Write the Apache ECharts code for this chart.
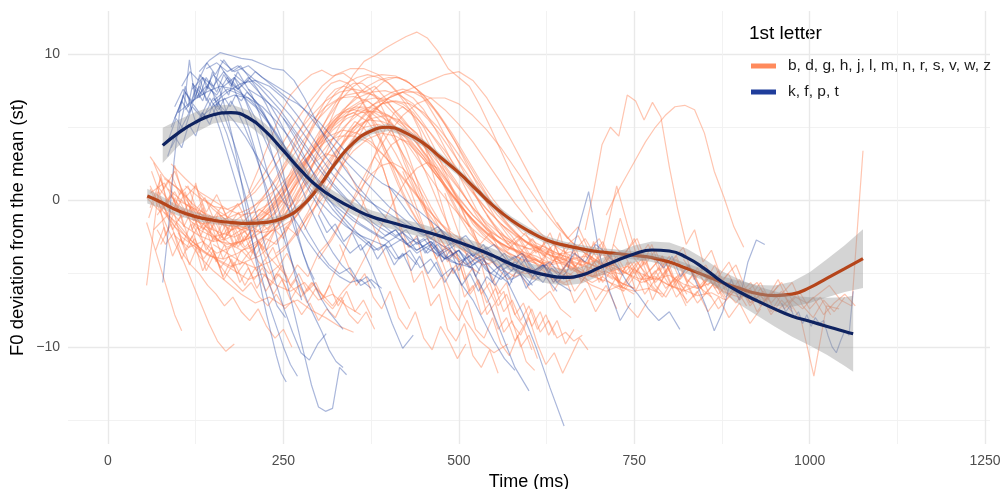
<!DOCTYPE html>
<html><head><meta charset="utf-8">
<script src="https://cdn.jsdelivr.net/npm/echarts@6/dist/echarts.min.js"></script>
<style>html,body{margin:0;padding:0;background:#fff}#c{width:1000px;height:489px}</style>
</head><body><div id="c"></div>
<script>
// ---------- axis ticks ----------
const xTicks = [0, 250, 500, 750, 1000, 1250];
const xMinor = [125, 375, 625, 875, 1125];
const yTicks = [-10, 0, 10];
const yMinor = [-15, -5, 5];
const groupNames = ['b, d, g, h, j, l, m, n, r, s, v, w, z', 'k, f, p, t'];

// ---------- smooth curves (time, value, ribbon half width) ----------
const orangeSmoothT = [56,75,100,125,150,175,200,225,250,275,300,325,350,375,400,425,450,475,500,525,550,575,600,625,650,675,700,725,750,775,800,825,850,875,900,925,950,975,1000,1025,1050,1076];
const orangeSmoothY = [0.3,-0.1,-0.7,-1.1,-1.35,-1.5,-1.57,-1.5,-1.2,-0.45,0.9,2.6,3.95,4.75,5.0,4.6,3.9,2.9,1.9,0.75,-0.4,-1.35,-2.1,-2.7,-3.05,-3.3,-3.5,-3.62,-3.75,-3.9,-4.2,-4.65,-5.1,-5.6,-6.0,-6.35,-6.5,-6.4,-5.95,-5.3,-4.65,-3.97];
const orangeBand = [0.5,0.42,0.35,0.3,0.28,0.26,0.25,0.25,0.25,0.25,0.25,0.25,0.25,0.25,0.25,0.25,0.25,0.25,0.25,0.25,0.25,0.25,0.25,0.25,0.25,0.26,0.26,0.27,0.28,0.3,0.32,0.35,0.38,0.43,0.5,0.58,0.7,0.85,1.05,1.3,1.6,2.0];

const blueSmoothT = [78,100,125,150,175,200,225,250,275,300,325,350,375,400,425,450,475,500,525,550,575,600,625,650,675,700,725,750,775,800,825,850,875,900,925,950,975,1000,1025,1050,1062];
const blueSmoothY = [3.76,4.6,5.35,5.85,6.0,5.65,4.7,3.4,2.05,0.9,0.1,-0.55,-1.1,-1.45,-1.78,-2.1,-2.45,-2.85,-3.3,-3.8,-4.35,-4.8,-5.1,-5.25,-5.1,-4.6,-4.1,-3.65,-3.38,-3.45,-3.9,-4.65,-5.55,-6.25,-6.85,-7.4,-7.9,-8.25,-8.6,-8.95,-9.1];
const blueBand = [1.2,0.9,0.7,0.6,0.55,0.52,0.5,0.48,0.46,0.45,0.45,0.44,0.44,0.44,0.44,0.44,0.44,0.45,0.46,0.48,0.5,0.52,0.55,0.56,0.57,0.58,0.58,0.58,0.58,0.58,0.6,0.65,0.72,0.85,1.0,1.2,1.4,1.65,1.95,2.35,2.6];

// ---------- individual F0 tracks: [start time, step (ms), values] ----------
const orangeTracks = [
 [60,20,[0.5,1.2,-0.5,-1.0,-1.8,-2.2,-2.5,-2.0,-1.5,-0.8,0.5,2.0,3.5,4.8,5.6,6.0,6.1,5.8,5.2,4.3,3.2,2.0,0.8,-0.5,-1.5,-2.3,-2.9,-3.3,-3.6,-3.9,-4.2,-4.5,-4.8,-5.0]],
 [70,20,[-1.0,0.3,-0.8,-1.5,-2.6,-3.0,-2.8,-2.4,-1.8,-1.0,0.2,1.6,3.0,4.2,5.0,5.5,5.4,5.0,4.2,3.0,1.6,0.3,-0.9,-1.9,-2.7,-3.2,-3.5,-3.8,-4.3,-4.0,-4.6,-5.2,-5.5,-5.9,-6.2,-6.0,-6.4]],
 [55,20,[0.2,-0.8,0.6,-1.2,-1.6,-1.4,-2.0,-1.8,-1.2,-0.4,0.8,2.2,3.6,5.0,6.2,7.0,7.4,7.5,7.2,6.6,5.6,4.4,3.0,1.6,0.2,-1.0,-2.0,-2.8,-3.4,-3.8,-4.0,-4.4,-4.1,-4.8,-5.1]],
 [80,20,[1.5,0.8,-0.5,-0.9,-1.4,-1.0,-0.6,0.0,0.8,1.8,3.0,4.2,5.3,6.2,6.8,7.0,6.9,6.4,5.6,4.6,3.4,2.0,0.6,-0.6,-1.6,-2.4,-3.0,-3.4,-3.7,-3.5,-4.2,-4.6,-4.4,-5.0,-5.6,-5.3,-5.8,-6.1,-6.5,-6.3,-6.8]],
 [65,20,[-2.0,-1.0,-2.5,-3.2,-3.8,-4.0,-3.6,-3.0,-2.4,-1.6,-0.5,0.8,2.2,3.4,4.4,5.0,5.2,4.9,4.3,3.3,2.1,0.8,-0.5,-1.6,-2.5,-3.1,-3.6,-4.0,-4.4,-4.7,-5.2,-4.9,-5.5]],
 [90,20,[2.5,1.5,0.6,0.0,-0.6,-1.0,-0.8,-0.2,0.8,2.2,3.8,5.4,6.8,7.8,8.4,8.6,8.5,8.0,7.2,6.0,4.6,3.0,1.4,0.0,-1.2,-2.2,-2.9,-3.4,-3.8,-4.1,-4.4]],
 [260,15,[-1.0,0.5,2.2,4.0,5.8,7.4,8.6,9.5,9.9,10.4,10.8,11.2,11.5,11.1,10.2,9.0,8.4,7.8,6.5,5.0,3.4,1.8,0.4,-0.8]],
 [200,15,[0.5,2.2,4.0,5.8,7.2,8.0,8.6,8.9,8.5,8.7,8.2,7.4,7.8,7.0,6.0,5.2,4.6,3.4,2.0,0.6,-0.8,-1.8]],
 [75,20,[-0.5,-1.8,-2.6,-3.4,-4.0,-4.5,-4.2,-3.8,-3.0,-2.0,-0.6,1.0,2.6,4.0,5.0,5.6,5.8,5.5,4.8,3.8,2.6,1.2,-0.2,-1.4,-2.4,-3.2,-3.8,-4.4,-4.8,-5.2]],
 [100,20,[0.0,-0.5,-1.2,-1.6,-1.4,-0.8,0.2,1.4,2.8,4.2,5.6,6.6,7.2,7.4,7.2,6.6,5.6,4.4,3.0,1.6,0.2,-1.0,-2.0,-2.6,-3.0,-3.3,-3.1,-3.6,-4.0,-3.8,-4.3,-4.8,-4.5,-5.0,-5.4,-5.1,-5.7,-6.0,-5.6,-6.3,-6.6,-6.2,-6.9]],
 [60,20,[3.0,1.6,0.8,-0.2,-1.0,-1.6,-1.8,-1.5,-0.9,0.0,1.2,2.6,4.0,5.2,6.0,6.4,6.3,5.8,5.0,3.9,2.7,1.4,0.1,-1.0,-1.9,-2.6]],
 [120,20,[-1.5,-2.0,-2.8,-3.0,-2.6,-1.8,-0.6,0.8,2.4,3.8,5.0,5.8,6.2,6.0,5.4,4.5,3.4,2.2,1.0,-0.2,-1.3,-2.2,-2.9,-3.4,-3.9,-4.3,-4.0,-4.7,-5.1,-4.8,-5.4]],
 [70,20,[1.0,-0.2,-1.0,-2.0,-2.5,-2.2,-1.6,-0.6,0.8,2.4,4.0,5.4,6.4,7.0,7.1,6.8,6.0,4.9,3.6,2.2,0.8,-0.4,-1.5,-2.4,-3.1,-3.6,-4.0,-4.3]],
 [55,10,[-1.5,-3.0,-4.6,-6.2,-7.8,-8.9]],
 [60,12,[0.8,-0.5,-1.8,-3.0,-4.2,-5.6,-7.0,-8.4,-9.6,-10.3,-9.8]],
 [70,20,[0.2,-1.2,-2.4,-3.8,-4.8,-5.6,-6.4,-7.0,-6.6,-7.2,-6.8,-7.5,-8.0,-8.6,-9.0]],
 [80,20,[-0.8,-1.6,-2.8,-3.6,-4.2,-4.8,-5.4,-5.0,-5.8,-6.2,-5.6,-6.8,-6.4,-7.2,-7.8]],
 [130,20,[0.5,-0.6,-1.4,-2.0,-1.6,-0.8,0.4,1.8,3.2,4.6,5.6,6.0,5.4,4.0,2.2,0.2,-2.0,-4.2,-6.4,-8.2,-9.6,-10.4,-9.8]],
 [280,12,[-2.0,-0.8,0.6,2.0,3.2,4.6,5.4,5.0,4.2,2.8,1.0,-1.2,-3.4,-5.6,-4.8,-7.2,-6.4,-8.8,-9.6,-8.4,-10.6,-11.4,-10.2,-11.8]],
 [380,12,[3.0,2.2,0.4,-1.6,-3.2,-2.4,-4.8,-6.0,-5.2,-7.4,-8.2,-6.8,-8.8,-9.4,-8.0,-9.8,-10.6,-9.2,-11.0,-11.6]],
 [480,12,[0.5,-1.2,-2.8,-4.4,-3.6,-5.8,-7.0,-6.2,-8.4,-9.2,-8.0,-9.8,-11.2,-10.4,-11.8,-10.6,-9.4,-10.2]],
 [520,12,[-2.0,-3.5,-5.0,-6.4,-5.6,-7.8,-8.6,-7.4,-9.0,-8.2,-9.4,-9.0,-9.6,-9.2]],
 [540,15,[-1.0,-2.0,-3.0,-2.4,-3.6,-4.2,-3.4,-4.8,-4.0,-5.2,-4.4,-3.6,-5.0,-5.8,-4.6,-5.4,-6.2,-5.0,-6.6,-5.8,-7.0,-6.2,-7.4,-6.6,-5.8,-7.2,-6.4,-7.8,-6.8,-7.6]],
 [600,15,[-2.6,-3.4,-2.2,-4.0,-3.0,-4.6,-3.8,-2.8,-4.4,-3.6,-5.0,-4.2,-5.6,-4.8,-3.8,-5.4,-6.0,-5.2,-6.4,-5.6,-6.8,-6.0,-7.2,-6.4,-5.6,-6.8,-7.4,-6.6,-7.8,-7.0,-6.4,-7.2]],
 [820,16,[-4.0,-5.2,-4.4,-6.0,-5.0,-6.4,-5.6,-7.0,-6.2,-7.4,-6.6,-7.0,-6.4,-5.8,-6.8,-7.2,3.4]],
 [680,12,[-2.0,0.6,3.8,5.0,4.4,7.2,6.8,5.5,6.7,5.7,2.3,-0.6,-3.0,-2.0,-4.2,-3.4,-5.0]],
 [710,14,[-1.0,0.4,1.6,2.8,4.0,5.0,5.8,6.4,6.5,6.2,4.6,2.0,0.2,-1.8,-3.2]],
 [580,15,[-3.0,-4.0,-3.2,-4.8,-3.8,-5.2,-4.6,-3.4,-5.6,-4.2,-6.0,-5.0,-4.0,-5.8,-6.6,-5.4]],
 [640,15,[-1.5,-2.6,-1.8,-3.4,-2.6,-4.0,-1.2,-3.6,-4.6,-3.0,-5.2,-4.0,-3.2,-5.4,-4.6,-6.0,-5.2,-4.4,-6.2,-5.6,-6.8,-5.8]],
 [560,15,[-2.2,-3.0,-4.2,-5.4,-4.6,-6.2,-5.0,-7.0,-6.0,-7.6,-6.4,-5.2,-7.2,-8.0,-6.8]],
 [700,18,[-3.0,-4.4,-3.6,-2.6,-4.8,-3.8,-5.6,-4.4,-6.0,-5.0,-6.6,-5.8,-7.0,-6.2,-7.6,-6.8,-8.2,-12.0,-7.2,-7.4]],
 [85,20,[0.8,0.0,-0.8,-1.2,-1.0,-0.4,0.6,2.0,3.6,5.2,6.6,7.8,8.6,9.0,9.0,8.6,7.8,6.8,5.6,4.2,2.8,1.4,0.2,-0.9,-1.8,-2.5,-3.0,-3.4]],
 [95,20,[-2.4,-3.2,-2.8,-3.6,-3.2,-2.6,-1.6,-0.4,1.0,2.4,3.6,4.4,4.8,4.6,4.0,3.0,1.8,0.6,-0.6,-1.6,-2.4,-3.0,-3.6,-4.0,-4.6,-5.0,-4.6,-5.4,-5.8]],
 [110,20,[1.0,0.2,-0.4,-0.6,-0.2,0.6,1.8,3.2,4.6,5.8,6.8,7.4,7.6,7.4,6.8,5.8,4.6,3.2,1.8,0.4,-0.8,-1.8,-2.6,-3.2,-3.6,-4.0,-4.4,-4.2,-4.8,-5.2,-5.0,-5.6,-6.0]],
 [60,15,[-0.5,1.5,-1.0,0.8,-2.0,-0.5,-2.8,-1.4,-3.2,-2.0,-3.8,-2.6,-3.0,-1.8,-2.4,-1.0,-0.2,0.8,2.0,3.4,4.6,5.8,6.6,7.2,7.4,7.0,6.2,5.0,3.6,2.2,0.8,-0.6,-1.8,-2.8,-3.6,-4.2]],
 [65,15,[2.6,0.8,2.0,0.2,1.0,-0.8,0.4,-1.2,-0.2,-1.6,-0.6,-1.0,0.0,-0.4,0.8,1.6,2.6,3.6,4.8,5.8,6.8,7.6,8.2,8.4,8.2,7.6,6.6,5.4,4.0,2.6,1.2,-0.2,-1.4,-2.4,-3.2,-3.8,-4.2,-4.6]],
 [75,15,[-3.0,-1.6,-4.0,-2.4,-4.8,-3.4,-5.4,-4.2,-5.8,-4.6,-6.2,-5.0,-5.6,-4.4,-5.2,-3.6,-2.8,-1.6,-0.4,0.8,1.8,2.4,2.6,2.2,1.4,0.2,-1.2,-2.6,-4.0]],
 [150,20,[-3.0,-3.6,-4.2,-4.6,-4.2,-3.4,-2.2,-0.8,0.8,2.2,3.4,4.2,4.6,4.4,3.8,2.8,1.6,0.4,-0.8,-2.0,-3.0,-3.8,-4.4,-4.8,-5.2,-5.6,-5.2,-5.8,-6.2,-5.8,-6.4]],
 [250,20,[-2.0,-1.0,0.4,2.0,3.6,5.0,6.0,6.6,6.8,6.6,6.0,5.0,3.8,2.4,1.0,-0.4,-1.6,-2.6,-3.4,-4.0,-4.4,-4.8,-5.2,-4.8,-5.6,-6.0]],
 [300,20,[-4.0,-2.6,-0.8,1.2,3.0,4.6,5.8,6.6,7.0,7.0,6.6,5.8,4.8,3.6,2.2,0.8,-0.6,-1.8,-2.8,-3.6,-4.2]],
 [140,20,[0.0,-0.8,-1.4,-1.6,-1.2,-0.4,0.6,1.8,3.0,4.2,5.2,6.0,6.6,7.0,7.4,7.8,8.2,8.6,8.8,8.2,7.0,5.4,3.6,1.8,0.0,-1.6,-2.8,-3.6,-4.2,-4.6,-5.0]],
 [70,20,[0.4,-0.8,-1.8,-2.4,-2.8,-2.6,-2.0,-1.2,-0.2,1.0,2.2,3.2,4.0,4.4,4.4,4.0,3.2,2.2,1.0,-0.2,-1.4,-2.4,-3.2,-3.8,-4.2]],
 [180,20,[-1.6,-2.0,-2.2,-2.0,-1.4,-0.4,0.8,2.2,3.6,5.0,6.2,7.0,7.4,7.4,7.0,6.2,5.2,4.0,2.6,1.2,-0.2,-1.4,-2.4,-3.2,-3.8,-4.2,-4.6,-4.4,-5.0,-5.4,-5.2,-5.8,-6.2,-5.8,-6.6]],
 [60,15,[1.0,-0.5,0.4,-1.2,-0.4,-2.0,-1.2,-2.6,-1.8,-3.2,-2.4,-3.6,-4.4,-5.2]],
 [100,15,[-1.4,-0.2,-2.0,-1.0,-2.6,-1.6,-3.0,-2.0,-3.4,-2.2,-1.2,0.2,1.4,2.6,3.2,3.0,2.2,0.8,-0.8,-2.6,-4.4,-6.0,-7.4]],
 [55,10,[-5.8,-2.0,1.8,-0.5,2.4,0.6,-1.0,1.2,-0.8,-2.2,-1.2,-2.8,-1.6,-3.2,-2.4,-3.6,-2.8,-4.0,-3.2,-4.4,-3.6,-4.6]],
 [480,15,[2.4,1.4,0.2,-1.0,-2.0,-2.8,-3.4,-2.6,-3.8,-3.2,-4.4,-3.6,-4.8,-4.0,-5.2,-4.4,-3.6,-5.0,-4.2,-5.6,-4.8,-6.0,-5.2,-6.4]],
 [520,15,[0.6,-0.6,-1.6,-2.4,-3.0,-2.2,-3.6,-2.8,-4.0,-3.0,-2.4,-3.8,-4.6,-3.6,-5.0,-4.2,-5.4,-4.6,-3.8,-5.2,-6.0,-5.0,-6.4,-5.6,-6.8,-6.0,-7.2]],
 [440,15,[4.0,3.0,1.8,0.4,-1.0,-2.2,-3.0,-2.2,-3.6,-4.4,-3.4,-5.0,-4.2,-5.6,-4.6,-6.2,-5.2,-6.8,-5.8,-7.4]],
 [330,12,[-3.0,-4.4,-5.8,-5.0,-6.6,-7.4,-6.2,-8.0,-8.8,-7.6,-9.4,-10.2,-8.6,-9.6,-10.8,-9.8]],
 [200,15,[-3.0,-4.2,-5.0,-4.4,-5.8,-6.6,-5.6,-6.4,-7.2,-6.2,-5.4,-4.0,-2.6,-1.2,0.2,1.4,2.2,2.6,2.2,1.2,-0.2,-1.8,-3.4,-5.0,-6.4]],
 [760,15,[-4.6,-5.4,-4.2,-6.0,-5.0,-6.6,-5.6,-4.4,-6.2,-7.0,-6.0,-7.6,-6.6,-5.4,-7.0,-6.2,-7.4,-6.6,-7.8]],
 [650,15,[-3.4,-4.6,-3.6,-5.2,-2.2,1.0,-1.6,-4.0,-3.0,-4.8,-3.8,-5.4,-4.6,-6.0,-5.0,-6.6]],
 [58,12,[-1.2,0.6,-2.4,-0.8,-3.0,-1.6,-3.6,-2.2,-4.2,-3.0,-4.6,-3.4,-4.0,-2.8,-3.4,-2.0,-2.6,-1.2,-0.4,0.8,2.0,3.2,4.4,5.4,6.2,6.6,6.8,6.4,5.6,4.6,3.4,2.0,0.6,-0.8,-2.0,-3.0,-3.8]],
 [62,12,[2.0,0.4,1.4,-0.6,0.6,-1.4,-0.2,-2.0,-0.8,-2.4,-1.4,-2.8,-1.8,-2.2,-1.0,-1.6,-0.4,0.6,1.8,3.2,4.6,5.8,6.8,7.6,8.0,8.0,7.6,6.8,5.6,4.2,2.6,1.2,-0.2,-1.4,-2.4,-3.2,-3.8,-4.2,-4.6,-5.0]],
 [68,12,[-3.4,-1.8,-3.8,-2.6,-4.4,-3.0,-4.8,-3.6,-5.2,-4.0,-5.6,-4.6,-6.0,-5.0,-6.4,-5.4,-6.8,-5.8,-7.0,-6.0,-6.6,-5.2,-4.0,-2.6,-1.2,0.4,1.8,3.0,3.8,4.2,4.0,3.2,2.0,0.6,-0.8,-2.0]],
 [72,12,[0.6,-1.0,0.2,-1.8,-0.6,-2.4,-1.2,-2.8,-1.6,-3.0,-2.0,-2.6,-1.4,-2.0,-0.6,0.6,2.0,3.4,4.8,6.0,7.0,7.6,7.8,7.6,7.0,6.0,4.8,3.4,2.0,0.6,-0.6,-1.6]],
 [80,12,[-0.4,-2.0,-1.0,-2.8,-1.8,-3.4,-2.4,-4.0,-3.0,-4.4,-3.6,-4.8,-4.0,-5.4,-4.4,-5.8,-5.0,-6.2,-5.6,-6.8,-7.4,-6.6,-7.8,-8.4,-7.6,-8.8]],
 [90,12,[1.8,0.4,1.0,-0.6,0.2,-1.2,-0.4,-1.6,-0.8,-2.0,-1.2,-0.6,0.4,1.6,3.0,4.4,5.6,6.6,7.4,8.0,8.2,8.0,7.4,6.4,5.2,3.8,2.4,1.0,-0.2,-1.2,-2.0,-2.6,-3.0,-3.4,-3.8]],
 [100,12,[-2.2,-3.4,-2.6,-4.0,-3.2,-4.6,-3.8,-5.0,-4.2,-5.4,-4.6,-5.8,-5.0,-6.2,-5.4,-6.4,-5.6,-6.8,-5.8,-7.2,-6.2,-7.6,-6.8,-8.0]],
 [110,15,[0.4,-0.6,-1.8,-2.6,-3.2,-2.8,-3.6,-3.0,-2.2,-1.0,0.4,1.8,3.2,4.4,5.4,6.0,6.2,6.0,5.4,4.4,3.2,1.8,0.4,-0.8,-1.8,-2.6,-3.2,-3.6,-4.0,-4.4]],
 [130,15,[-0.8,-1.6,-2.4,-3.0,-3.4,-3.2,-2.6,-1.6,-0.4,1.0,2.4,3.8,5.0,5.8,6.2,6.4,6.2,5.6,4.8,3.6,2.4,1.0,-0.4,-1.6,-2.6,-3.4,-4.0,-4.4,-4.2,-4.8,-5.2,-4.8,-5.4]],
 [160,15,[-1.0,-1.6,-2.0,-1.8,-1.2,-0.2,1.0,2.4,3.8,5.2,6.4,7.4,8.0,8.4,8.6,8.4,8.0,7.2,6.2,5.0,3.6,2.2,0.8,-0.4,-1.6,-2.4,-3.0,-3.4,-3.8,-4.2,-4.0,-4.6,-5.0]],
 [220,15,[-2.6,-2.0,-1.2,0.0,1.4,2.8,4.2,5.4,6.4,7.2,7.8,8.2,8.4,8.4,8.0,7.4,6.6,5.6,4.4,3.2,2.0,0.8,-0.4,-1.4,-2.2,-2.8,-3.2,-3.6,-4.0,-4.4,-4.8,-5.2]],
 [240,15,[-3.6,-3.0,-2.0,-0.8,0.6,2.0,3.4,4.6,5.6,6.4,7.0,7.4,7.6,7.4,7.0,6.2,5.2,4.0,2.6,1.2,-0.2,-1.4,-2.4,-3.2,-3.8,-4.2,-4.6,-5.0,-4.6,-5.2,-5.6,-5.2,-5.8,-6.2]],
 [300,15,[-1.0,0.6,2.2,3.8,5.0,6.0,6.6,6.8,6.6,6.0,5.0,3.6,2.0,0.4,-1.2,-2.6,-3.8,-4.6,-5.4,-4.8,-6.0,-6.8,-6.2,-7.4,-8.0]],
 [360,12,[0.6,2.0,3.6,5.0,6.0,6.4,6.0,4.8,3.0,1.0,-1.0,-3.0,-4.8,-6.4,-5.6,-7.8,-7.0,-9.0,-8.2,-10.0,-9.2,-10.8]],
 [400,12,[5.6,4.8,3.6,2.0,0.2,-1.8,-3.6,-5.2,-4.4,-6.6,-5.8,-7.8,-7.0,-8.8,-8.0,-9.6,-8.6,-10.2]],
 [420,12,[2.0,0.6,-1.0,-2.6,-4.0,-3.2,-5.0,-4.2,-6.2,-5.4,-7.0,-6.0,-7.6,-6.8,-8.2,-7.2,-8.8,-7.8,-9.2]],
 [460,12,[-1.4,-2.8,-4.2,-3.4,-5.4,-4.6,-6.4,-5.6,-7.2,-6.4,-7.8,-7.0,-8.6,-7.6,-9.2,-8.2,-9.8,-8.8]],
 [600,15,[-3.8,-4.6,-3.2,-5.0,-4.0,-5.6,-4.4,-3.4,-5.2,-6.0,-4.8,-6.4,-5.4,-4.2,-6.0,-6.8]],
 [620,12,[-2.8,-4.0,-2.2,-4.6,-3.4,-5.2,-2.8,-4.8,-3.6,-5.6,-4.2,-6.2,-5.0,-6.8,-5.6,-4.4,-6.0,-7.2]],
 [660,15,[-4.2,-5.0,-3.8,-5.6,-4.6,-6.2,-5.2,-3.8,-5.8,-6.6,-5.4,-7.0,-6.2,-7.6,-6.6,-8.0,-7.0,-8.4,-7.4]],
 [720,15,[-3.0,-3.8,-2.6,-4.4,-3.4,-5.0,-4.0,-5.6,-4.6,-6.2,-5.2,-4.2,-5.8,-6.6,-5.6,-7.0,-6.2,-7.4]],
 [840,15,[-5.0,-5.8,-4.8,-6.4,-5.4,-7.0,-6.0,-7.6,-6.4,-5.6,-7.2,-8.0,-6.8,-7.6,-6.6]],
 [560,15,[-1.6,-2.4,-3.4,-2.6,-3.8,-3.0,-4.2,-3.4,-2.6,-3.8,-4.6,-3.8,-5.0,-4.2,-5.4,-4.6,-5.8,-5.0]],
 [70,12,[-2.0,-3.0,-2.2,-3.6,-4.4,-5.0,-5.8,-6.4,-7.2,-6.6,-7.6,-8.2,-7.4,-8.6,-9.4,-8.8,-10.0]],
 [120,12,[-1.6,-2.6,-3.4,-4.2,-5.0,-5.6,-6.2,-5.6,-6.6,-7.2,-6.4,-7.4,-6.8,-7.8,-7.0,-8.2,-7.4,-8.0,-6.8]]
];

const blueTracks = [
 [130,15,[8.8,9.6,10.1,9.9,9.7,9.6,9.3,9.0,8.9,8.2,7.0,5.6,4.2,3.0,2.0,1.0,0.2,-0.6,-1.4,-2.0,-2.6,-3.0,-3.4,-3.8,-4.2,-4.4,-4.6]],
 [78,8,[-5.6,-2.0,2.6,6.0,7.8,6.4,5.2,6.0,5.6,6.6,6.2,7.0,6.4,7.2,6.8,7.4,7.0,6.6,6.0,5.2,4.0,2.6,1.0,-0.6,-2.2,-3.6,-4.6,-5.4]],
 [90,10,[5.0,6.2,7.4,6.6,7.8,7.0,6.2,4.8,3.2,1.6,0.0,-1.8,-3.6,-5.4,-7.2,-8.6,-10.0,-11.2,-12.0]],
 [100,7,[6.0,7.2,6.4,8.0,7.0,8.4,7.6,8.8,8.0,7.0,5.8,4.4,2.8,1.0,-0.8,-2.6,-4.4,-6.2,-7.8,-9.2,-10.6,-11.8,-12.4]],
 [130,10,[7.0,8.4,7.6,9.2,8.4,7.6,6.4,5.0,3.4,1.6,-0.4,-2.4,-4.6,-6.6,-8.6,-10.6,-12.6,-14.1,-14.4,-14.2,-11.4,-11.9]],
 [95,12,[6.4,7.6,6.8,8.6,7.8,7.0,5.6,4.0,2.2,0.4,-1.6,-3.6,-5.6,-7.4,-9.0,-10.4,-10.9,-9.8,-9.1]],
 [85,12,[4.0,5.6,4.8,6.6,5.8,7.0,6.0,4.6,2.8,0.8,-1.4,-3.6,-5.6,-7.2,-8.0]],
 [120,15,[7.6,8.4,7.8,8.8,8.0,7.0,5.6,4.0,2.4,0.8,-0.8,-2.2,-3.4,-4.4,-5.0,-4.6,-5.8,-5.4,-6.0]],
 [120,15,[8.0,7.2,8.6,7.8,8.4,7.6,6.8,5.6,4.4,3.2,2.0,0.8,-0.4,-1.6,-2.6,-3.6,-3.0,-4.6,-6.4,-8.4,-10.1,-9.2]],
 [100,20,[6.0,6.8,7.4,7.8,7.6,7.0,6.0,4.6,3.0,1.4,0.0,-1.0,-1.8,-2.4,-2.8,-3.2,-2.6,-3.6,-3.0,-4.0,-3.4,-4.4,-3.8,-4.8,-4.2,-5.0,-4.4,-5.4]],
 [120,20,[5.2,6.0,6.8,7.2,7.0,6.4,5.4,4.2,2.8,1.4,0.2,-0.8,-1.6,-2.2,-2.8,-2.2,-3.4,-2.8,-3.8,-4.4,-3.6,-4.8,-5.4,-4.6,-5.8,-5.0,-6.2]],
 [150,20,[6.6,7.4,8.0,8.2,7.8,7.0,5.8,4.4,3.0,1.8,0.8,0.0,-0.6,-1.2,-1.8,-2.4,-1.8,-3.0,-2.4,-3.6,-3.0,-4.2,-3.6,-4.8,-4.2,-5.4]],
 [90,15,[3.6,5.0,6.4,5.6,7.0,6.2,5.4,4.4,3.2,2.0,0.8,-0.4,-1.6,-2.8,-3.8,-4.6,-5.2,-5.6,-5.4,-6.0]],
 [160,20,[9.6,8.8,9.2,8.4,7.8,7.2,6.2,5.0,3.8,2.6,1.6,0.6,-0.4,-1.2,-2.0,-2.6,-3.2,-2.6,-3.8,-3.2,-4.4,-3.8,-5.0,-4.4,-5.6,-6.2]],
 [200,20,[7.6,7.0,6.2,5.0,3.6,2.2,1.0,0.0,-0.8,-1.6,-2.2,-2.8,-3.4,-2.8,-4.0,-3.4,-4.8,-6.6,-9.0,-11.4,-13.0]],
 [150,20,[6.8,7.6,7.2,6.4,5.2,3.8,2.4,1.2,0.2,-0.6,-1.4,-2.0,-2.6,-2.0,-3.2,-2.6,-3.8,-3.2,-4.4,-3.8,-4.8,-5.6,-7.6,-10.0,-12.8,-15.4]],
 [250,15,[5.6,4.4,3.0,1.6,0.4,-0.6,-1.4,-2.2,-2.8,-3.4,-2.8,-4.0,-3.4,-4.6,-4.0,-5.2,-4.6,-5.8,-6.8,-8.2,-9.6,-10.8,-11.6]],
 [960,6,[-7.0,-7.6,-7.2,-8.0,-7.6,-8.4,-7.8,-8.6,-8.0,-8.4,-8.2,-9.2,-10.0,-10.4,-9.6,-8.9,-9.2,-6.2]],
 [780,12,[-4.0,-4.6,-3.8,-5.2,-4.4,-5.8,-7.2,-8.9,-7.6,-5.4,-6.8,-4.2,-2.7,-3.0]],
 [400,15,[1.0,0.0,-1.0,-1.8,-2.6,-2.0,-3.2,-2.6,-3.8,-3.0,-4.2,-3.6,-4.8,-4.0,-5.0,-4.4,-5.6,-4.8,-2.0,0.6,-3.6,-6.2,-8.2,-7.0]],
 [560,15,[-4.0,-4.8,-3.8,-5.2,-4.4,-5.6,-4.6,-3.6,-4.2,-3.0,-3.6,-4.4,-5.6,-6.4,-7.4,-8.2,-7.6,-8.8]],
 [85,10,[3.0,4.4,3.6,5.2,4.4,6.0,5.2,6.6,5.8,6.8,6.0,5.0,3.8,2.4,1.0,-0.4,-1.8,-3.2,-4.6,-5.8,-7.0,-8.0,-9.0,-10.2,-11.0,-11.4]],
 [110,15,[6.2,7.0,7.8,7.2,8.4,7.6,8.2,7.4,6.6,5.4,4.0,2.6,1.4,0.4,-0.6,-1.4,-2.2,-2.8,-3.4,-3.0,-4.0,-3.6,-4.4]],
 [180,15,[8.6,8.0,8.8,8.2,7.6,7.0,6.6,6.0,5.4,4.6,3.8,3.0,2.4,1.8,1.2,0.8,0.2,-0.4,-1.0,-1.6,-2.2,-2.8,-3.4,-4.0,-3.6,-4.6,-4.2,-5.0,-4.6,-5.4]],
 [100,8,[4.6,6.2,9.6,7.0,8.2,6.8,7.6,6.4,7.8,7.2,8.4,7.6,6.8,5.8,4.6,3.2,1.8,0.6,-0.8,-2.2,-3.8,-5.4,-6.8]],
 [95,10,[5.6,6.8,6.0,7.6,6.8,8.2,7.4,8.6,7.8,8.8,8.0,7.2,6.0,4.6,3.0,1.4,-0.2,-1.8,-3.2,-4.6,-5.8,-6.8,-7.6,-8.2,-8.8]],
 [105,12,[7.8,8.8,8.2,9.4,8.6,9.6,8.8,9.2,8.4,7.6,6.6,5.4,4.0,2.6,1.2,-0.2,-1.4,-2.6,-3.6,-4.4,-5.0,-5.6,-5.2,-6.0]],
 [140,15,[9.0,9.4,8.8,9.2,8.6,8.0,7.4,6.6,5.8,4.8,3.8,2.8,1.8,1.0,0.2,-0.6,-1.2,-1.8,-2.4,-2.0,-3.0,-2.6,-3.6,-3.2,-4.2,-3.8,-4.8]],
 [170,15,[8.2,7.6,8.4,7.8,7.0,6.2,5.2,4.2,3.2,2.2,1.2,0.4,-0.4,-1.2,-1.8,-2.4,-2.0,-3.0,-2.6,-3.6,-3.0,-4.0,-3.4,-4.6,-4.0,-5.0,-4.4,-5.4,-5.0,-5.8]],
 [300,12,[-1.0,-2.2,-1.6,-2.8,-2.2,-3.4,-2.8,-4.0,-3.2,-4.4,-3.6,-4.8,-3.8,-5.0,-4.2,-5.6,-4.6,-5.8,-5.0,-6.2,-5.2,-5.8,-4.8,-5.6]],
 [440,12,[-2.4,-3.6,-2.8,-4.2,-3.4,-4.8,-3.6,-5.2,-4.0,-5.6,-4.4,-5.8,-4.6,-6.0,-5.0,-5.6,-4.6,-5.2]]
];

// ---------- colours ----------
const orangeCol = '#ff7f50', blueCol = '#2b4aa6';
const orangeSmoothCol = '#b5451b', blueSmoothCol = '#0f2360';

const FONT = '"Liberation Sans", Arial, Helvetica, sans-serif';
const chart = echarts.init(document.getElementById('c'), null, {renderer: 'canvas'});

function toPts(tr) { const t0 = tr[0], dt = tr[1]; return tr[2].map((y, i) => [t0 + i * dt, y]); }
function pairs(T, Y) { return T.map((t, i) => [t, Y[i]]); }
const fmt = v => String(v).replace('-', '\u2212');

const series = [];
orangeTracks.forEach((tr, k) => series.push({
  type: 'line', name: 'o' + k, data: toPts(tr), showSymbol: false, silent: true, z: 2,
  lineStyle: {color: orangeCol, width: 1.2, opacity: 0.45}, itemStyle: {color: orangeCol}, clip: true
}));
blueTracks.forEach((tr, k) => series.push({
  type: 'line', name: 'b' + k, data: toPts(tr), showSymbol: false, silent: true, z: 2,
  lineStyle: {color: blueCol, width: 1.2, opacity: 0.4}, itemStyle: {color: blueCol}, clip: true
}));

function bandSeries(T, Y, H, z) {
  return {
    type: 'custom', silent: true, z: z, clip: true,
    data: [[T[0], Y[0]]],
    renderItem: function (params, api) {
      const pts = [];
      for (let i = 0; i < T.length; i++) pts.push(api.coord([T[i], Y[i] + H[i]]));
      for (let i = T.length - 1; i >= 0; i--) pts.push(api.coord([T[i], Y[i] - H[i]]));
      return {type: 'polygon', shape: {points: pts}, style: {fill: 'rgba(153,153,153,0.42)'}};
    }
  };
}
series.push(bandSeries(orangeSmoothT, orangeSmoothY, orangeBand, 3));
series.push({type: 'line', name: 'os', data: pairs(orangeSmoothT, orangeSmoothY), smooth: 0.5, showSymbol: false, silent: true, z: 4,
  lineStyle: {color: orangeSmoothCol, width: 3.2}, itemStyle: {color: orangeSmoothCol}});
series.push(bandSeries(blueSmoothT, blueSmoothY, blueBand, 5));
series.push({type: 'line', name: 'bs', data: pairs(blueSmoothT, blueSmoothY), smooth: 0.5, showSymbol: false, silent: true, z: 6,
  lineStyle: {color: blueSmoothCol, width: 3.2}, itemStyle: {color: blueSmoothCol}});
// legend entries
series.push({type: 'line', name: groupNames[0], data: [], itemStyle: {color: '#ff8a5c'}, lineStyle: {color: '#ff8a5c'}});
series.push({type: 'line', name: groupNames[1], data: [], itemStyle: {color: '#1f3d9b'}, lineStyle: {color: '#1f3d9b'}});

const majorLine = {show: true, lineStyle: {color: '#e9e9e9', width: 1.4}};
const minorLine = {show: true, lineStyle: {color: '#f1f1f1', width: 0.9}};

const option = {
  animation: false,
  backgroundColor: '#ffffff',
  textStyle: {fontFamily: FONT},
  grid: {left: 68, right: 10, top: 11, bottom: 45, containLabel: false, outerBoundsMode: 'none'},
  legend: {
    data: groupNames, orient: 'vertical', left: 751, top: 58, icon: 'rect',
    itemWidth: 25, itemHeight: 5, itemGap: 10, padding: 0, selectedMode: false,
    textStyle: {fontSize: 15.5, color: '#1a1a1a', fontFamily: FONT, padding: [0, 0, 0, 7]}
  },
  graphic: [{type: 'text', left: 749, top: 24, style: {text: '1st letter', fontSize: 19, fill: '#000', fontFamily: FONT}}],
  xAxis: [{
    type: 'value', min: -57, max: 1257, name: 'Time (ms)', nameLocation: 'middle', nameGap: 22,
    nameTextStyle: {fontSize: 18, color: '#000', fontFamily: FONT, verticalAlign: 'top'},
    axisLine: {show: false}, axisTick: {show: false, customValues: xTicks},
    axisLabel: {customValues: xTicks, formatter: fmt, color: '#4d4d4d', fontSize: 14, margin: 10, fontFamily: FONT},
    splitLine: majorLine
  }, {
    type: 'value', min: -57, max: 1257, position: 'bottom', gridIndex: 0,
    axisLine: {show: false}, axisTick: {show: false, customValues: xMinor},
    axisLabel: {show: false, customValues: xMinor}, splitLine: minorLine
  }],
  yAxis: [{
    type: 'value', min: -16.63, max: 12.94, name: 'F0 deviation from the mean (st)', nameLocation: 'middle', nameGap: 41,
    nameMoveOverlap: false,
    nameTextStyle: {fontSize: 18.5, color: '#000', fontFamily: FONT},
    axisLine: {show: false}, axisTick: {show: false, customValues: yTicks},
    axisLabel: {customValues: yTicks, formatter: fmt, color: '#4d4d4d', fontSize: 14, margin: 8, fontFamily: FONT},
    splitLine: majorLine
  }, {
    type: 'value', min: -16.63, max: 12.94, position: 'left', gridIndex: 0,
    axisLine: {show: false}, axisTick: {show: false, customValues: yMinor},
    axisLabel: {show: false, customValues: yMinor}, splitLine: minorLine
  }],
  series: series
};
chart.setOption(option);
</script>
</body></html>
